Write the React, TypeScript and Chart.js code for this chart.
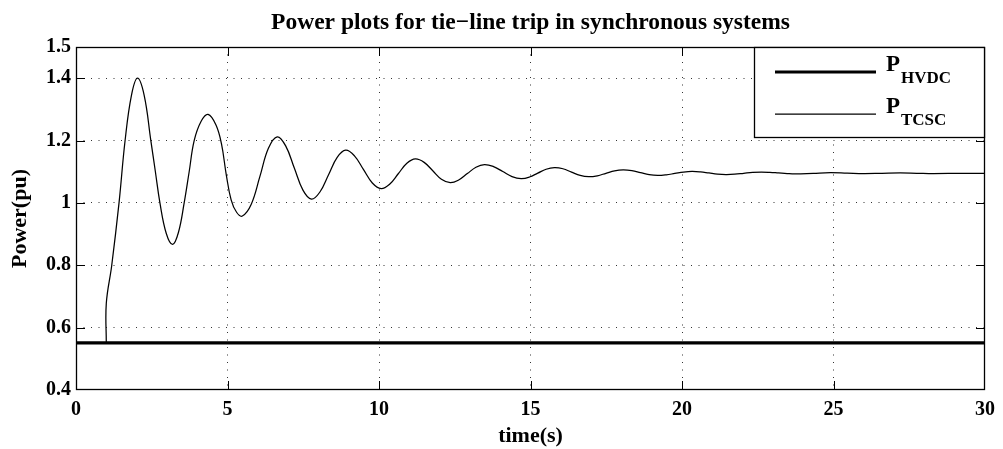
import { useEffect, useRef } from "react";
import { Chart, registerables } from "chart.js";

Chart.register(...registerables);

// ---------- data ----------
const titleText = "Power plots for tie−line trip in synchronous systems";
const xLabel = "time(s)";
const yLabel = "Power(pu)";

const xTicks = [0, 5, 10, 15, 20, 25, 30];
const yTicks = [0.4, 0.6, 0.8, 1, 1.2, 1.4, 1.5];

const timeHVDC = [0, 30];
const powerHVDC = [0.551, 0.551];

const timeTCSC = [
  1.0, 1.0, 1.18, 1.42, 1.62, 1.83, 2.03, 2.25, 2.47, 2.62, 2.77, 2.98, 3.19, 3.38,
  3.57, 3.735, 3.9, 4.13, 4.36, 4.62, 4.8, 4.96, 5.12, 5.3, 5.49,
  5.78, 6.07, 6.35, 6.64,
  6.92, 7.205, 7.49, 7.77,
  8.05, 8.335, 8.62, 8.9,
  9.19, 9.485, 9.78, 10.07,
  10.35, 10.635, 10.92, 11.2,
  11.49, 11.775, 12.06, 12.35,
  12.63, 12.915, 13.2, 13.48,
  13.78, 14.085, 14.39, 14.69,
  14.965, 15.24, 15.515, 15.79,
  16.07, 16.355, 16.64, 16.92,
  17.205, 17.49, 17.775, 18.06,
  18.345, 18.63, 18.915, 19.2,
  19.48, 19.765, 20.05, 20.33,
  20.61, 20.89, 21.17, 21.45,
  21.74, 22.035, 22.33, 22.62,
  22.9, 23.185, 23.47, 23.75,
  24.33, 24.9, 25.45, 26.0, 26.6, 27.2, 27.75, 28.3, 29.2, 30,
];
const powerTCSC = [
  0.551, 0.678, 0.8, 1.0, 1.2, 1.345, 1.4, 1.345, 1.2, 1.1, 1.0, 0.902, 0.867, 0.905,
  1.0, 1.1, 1.2, 1.262, 1.284, 1.25, 1.19, 1.09, 1.01, 0.97, 0.958,
  0.995, 1.085, 1.175, 1.212,
  1.183, 1.112, 1.041, 1.012,
  1.035, 1.0905, 1.146, 1.169,
  1.151, 1.1075, 1.064, 1.046,
  1.06, 1.0935, 1.127, 1.141,
  1.13, 1.103, 1.076, 1.065,
  1.0735, 1.094, 1.1145, 1.123,
  1.1165, 1.1005, 1.0845, 1.078,
  1.083, 1.0955, 1.108, 1.113,
  1.1095, 1.0985, 1.088, 1.084,
  1.087, 1.095, 1.103, 1.106,
  1.1035, 1.097, 1.0905, 1.088,
  1.09, 1.0945, 1.099, 1.101,
  1.0995, 1.096, 1.0925, 1.091,
  1.092, 1.095, 1.098, 1.099,
  1.098, 1.096, 1.094, 1.093,
  1.095, 1.097, 1.0955, 1.094, 1.095, 1.096, 1.095, 1.094, 1.095, 1.095,
];

const legendMain = ["P", "P"];
const legendSub = ["HVDC", "TCSC"];

// ---------- styling ----------
const FONT = '"Liberation Serif", "Times New Roman", Times, serif';
const xMin = xTicks[0];
const xMax = xTicks[xTicks.length - 1];
const yMin = yTicks[0];
const yMax = yTicks[yTicks.length - 1];

const decorPlugin = {
  id: "decor",
  afterDatasetsDraw(chart: any) {
    const { ctx, chartArea: a, scales } = chart;
    const xs = scales.x;
    const ys = scales.y;
    ctx.save();
    ctx.setLineDash([]);
    ctx.strokeStyle = "#000";
    ctx.lineWidth = 1;
    const tl = 9;
    ctx.beginPath();
    for (const v of xTicks) {
      if (v === xMin || v === xMax) continue;
      const px = Math.round(xs.getPixelForValue(v)) + 0.5;
      ctx.moveTo(px, a.bottom);
      ctx.lineTo(px, a.bottom - tl);
      ctx.moveTo(px, a.top);
      ctx.lineTo(px, a.top + tl);
    }
    for (const v of yTicks) {
      if (v === yMin || v === yMax) continue;
      const py = Math.round(ys.getPixelForValue(v)) + 0.5;
      ctx.moveTo(a.left, py);
      ctx.lineTo(a.left + tl, py);
      ctx.moveTo(a.right, py);
      ctx.lineTo(a.right - tl, py);
    }
    ctx.stroke();
    ctx.lineWidth = 1.3;
    ctx.strokeRect(a.left + 0.5, a.top + 0.5, a.right - a.left - 1, a.bottom - a.top - 1);
    ctx.restore();
  },
  afterDraw(chart: any) {
    const { ctx, chartArea: a } = chart;
    const cx = (a.left + a.right) / 2;
    const cy = (a.top + a.bottom) / 2;
    ctx.save();
    ctx.fillStyle = "#000";
    ctx.textAlign = "center";
    ctx.textBaseline = "middle";
    ctx.font = `bold 23.5px ${FONT}`;
    ctx.fillText(titleText, cx, 23);
    ctx.font = `bold 22px ${FONT}`;
    ctx.fillText(xLabel, cx, 436);
    ctx.save();
    ctx.translate(20, cy);
    ctx.rotate(-Math.PI / 2);
    ctx.fillText(yLabel, 0, 0);
    ctx.restore();

    // legend
    const bw = 231;
    const bh = 91;
    const bx = a.right - bw;
    const by = a.top;
    ctx.fillStyle = "#fff";
    ctx.fillRect(bx, by, bw, bh);
    ctx.strokeStyle = "#000";
    ctx.lineWidth = 1.3;
    ctx.setLineDash([]);
    ctx.strokeRect(bx + 0.5, by + 0.5, bw - 1, bh - 1);
    const datasets = chart.data.datasets;
    const rows = [25, 67];
    rows.forEach((ry, i) => {
      const ds = datasets[i];
      ctx.strokeStyle = ds.borderColor;
      ctx.lineWidth = ds.borderWidth;
      ctx.beginPath();
      ctx.moveTo(bx + 21, by + ry);
      ctx.lineTo(bx + 122, by + ry);
      ctx.stroke();
      ctx.fillStyle = "#000";
      ctx.textAlign = "left";
      ctx.textBaseline = "alphabetic";
      ctx.font = `bold 23px ${FONT}`;
      ctx.fillText(legendMain[i], bx + 132, by + ry - 1);
      ctx.font = `bold 17px ${FONT}`;
      ctx.fillText(legendSub[i], bx + 147, by + ry + 11);
    });
    ctx.restore();
  },
};

export default function App() {
  const ref = useRef<HTMLCanvasElement | null>(null);

  useEffect(() => {
    if (!ref.current) return;
    const edge = (vals: number[]) => (c: any) => {
      const v = c.tick ? c.tick.value : undefined;
      return v === vals[0] || v === vals[vals.length - 1] ? "rgba(0,0,0,0)" : "#333";
    };
    const chart = new Chart(ref.current, {
      type: "line",
      data: {
        datasets: [
          {
            label: "P_HVDC",
            data: timeHVDC.map((t, i) => ({ x: t, y: powerHVDC[i] })),
            borderColor: "#000",
            borderWidth: 3.2,
            pointRadius: 0,
            fill: false,
          },
          {
            label: "P_TCSC",
            data: timeTCSC.map((t, i) => ({ x: t, y: powerTCSC[i] })),
            borderColor: "#000",
            borderWidth: 1.25,
            pointRadius: 0,
            fill: false,
            tension: 0.4,
          },
        ],
      },
      options: {
        animation: false,
        responsive: true,
        maintainAspectRatio: false,
        layout: { padding: { top: 47, right: 17, left: 0, bottom: 0 } },
        plugins: {
          legend: { display: false },
          title: { display: false },
          tooltip: { enabled: false },
        },
        scales: {
          x: {
            type: "linear",
            min: xMin,
            max: xMax,
            afterBuildTicks: (s: any) => {
              s.ticks = xTicks.map((v) => ({ value: v }));
            },
            afterFit: (s: any) => {
              s.height = 59;
            },
            ticks: {
              color: "#000",
              font: { family: FONT, size: 20, weight: "bold" },
              padding: 8,
              maxRotation: 0,
              autoSkip: false,
              callback: (v: any) => String(v),
            },
            grid: { color: edge(xTicks), lineWidth: 1, drawTicks: false },
            border: { display: false, dash: [1, 6.5] },
          },
          y: {
            type: "linear",
            min: yMin,
            max: yMax,
            afterBuildTicks: (s: any) => {
              s.ticks = yTicks.map((v) => ({ value: v }));
            },
            afterFit: (s: any) => {
              s.width = 76;
            },
            ticks: {
              color: "#000",
              font: { family: FONT, size: 20, weight: "bold" },
              padding: 5,
              autoSkip: false,
              callback: (v: any) => String(v),
            },
            grid: { color: edge(yTicks), lineWidth: 1, drawTicks: false },
            border: { display: false, dash: [1, 6.5] },
          },
        },
      },
      plugins: [decorPlugin],
    });
    return () => chart.destroy();
  }, []);

  return (
    <div style={{ position: "absolute", left: 0, top: 0, width: 1003, height: 449, background: "#fff" }}>
      <canvas ref={ref} />
    </div>
  );
}
